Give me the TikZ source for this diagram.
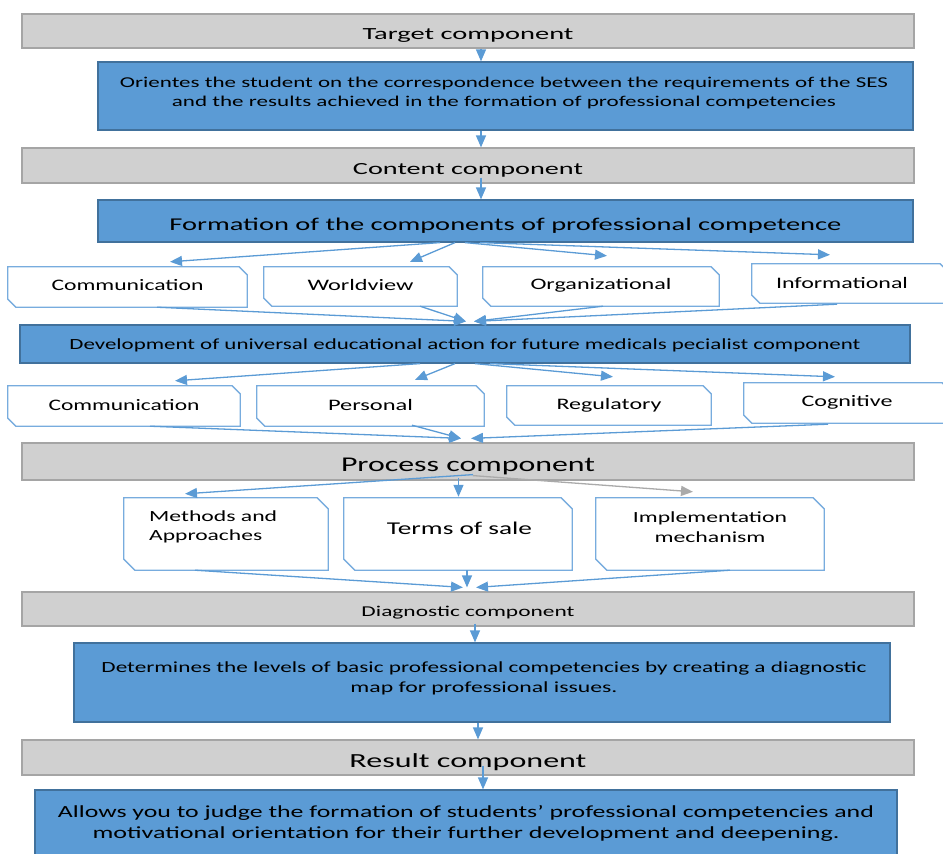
\documentclass[tikz,border=0pt]{standalone}
\usepackage{fontspec}
\setmainfont{Carlito}
\usepackage{graphicx}
\usetikzlibrary{arrows.meta,calc}
\definecolor{grayfill}{RGB}{208,208,208}
\definecolor{grayline}{RGB}{165,165,165}
\definecolor{bluefill}{RGB}{91,155,213}
\definecolor{blueline}{RGB}{65,113,156}
\definecolor{wline}{RGB}{120,172,222}
\definecolor{arrc}{RGB}{91,155,213}
\definecolor{garc}{RGB}{170,170,170}
\newcommand\sx[2]{\resizebox{#1pt}{\height}{#2}}
\newcommand\mv[2]{\raisebox{#1}[\height][\depth]{#2}}
\newcommand\fs[1]{\fontsize{#1}{#1}\selectfont}
\newcommand\chb[2][8]{\draw[wbord] (#2.north west) -- ([xshift=-#1pt]#2.north east) -- ([yshift=-#1pt]#2.north east) -- (#2.south east) -- ([xshift=#1pt]#2.south west) -- ([yshift=#1pt]#2.south west) -- cycle;}
\begin{document}
\begin{tikzpicture}[x=1pt,y=-1pt,
  graybar/.style={draw=grayline, fill=grayfill, line width=1.2pt, minimum width=892pt, inner sep=0pt, text=black},
  bluebox/.style={draw=blueline, fill=bluefill, line width=1.2pt, inner sep=0pt, text=black},
  wbox/.style={rectangle, inner sep=0pt, text=black},
  wbord/.style={draw=wline, line width=1.3pt, line join=miter},
  txt/.style={inner sep=0pt, text=black},
  arr/.style={draw=arrc, line width=1.3pt, -{Triangle[length=12pt,width=10pt]}},
  garr/.style={arr, draw=garc}]
\useasboundingbox (0,0) rectangle (943,854);
% main column
\node[graybar, minimum height=34pt, font=\fs{17}] (tgt) at (468,31) {\mv{-5pt}{\sx{211}{Target component}}};
\node[bluebox, minimum width=815pt, minimum height=68pt] (b1) at (505.5,96) {};
\node[txt, font=\fontsize{15}{19}\selectfont, align=center] (b1t) at (504,92.5) {\sx{768}{Orientes the student on the correspondence between the requirements of the SES}\\ \sx{664}{and the results achieved in the formation of professional competencies}};
\node[graybar, minimum height=35pt, font=\fs{17}] (cnt) at (468,165.5) {\mv{-4.5pt}{\sx{230}{Content component}}};
\node[bluebox, minimum width=815pt, minimum height=42pt, font=\fs{18}] (form) at (505.5,221) {\mv{-5pt}{\sx{672}{Formation of the components of professional competence}}};
% row 1
\node[wbox, minimum width=239pt, minimum height=40pt, font=\fs{16}] (w1) at (127.5,287) {\mv{1.5pt}{\sx{152}{Communication}}};
\node[wbox, minimum width=193pt, minimum height=39pt, font=\fs{16}] (w2) at (360.5,286.5) {\mv{1.5pt}{\sx{106}{Worldview}}};
\node[wbox, minimum width=236pt, minimum height=39pt, font=\fs{16}] (w3) at (601,286.5) {\mv{1.5pt}{\sx{141}{Organizational}}};
\node[wbox, minimum width=196pt, minimum height=39pt, font=\fs{16}] (w4) at (850,283.5) {\mv{1pt}{\sx{132}{Informational}}\hspace*{16pt}};
\chb{w1}\chb{w2}\chb{w3}\chb{w4}
\node[bluebox, minimum width=890pt, minimum height=38pt, font=\fs{15.5}] (dev) at (465,344) {\mv{-1pt}{\sx{791}{Development of universal educational action for future medicals pecialist component}}};
% row 2
\node[wbox, minimum width=232pt, minimum height=40pt, font=\fs{16}] (r1) at (124,406) {\mv{1pt}{\sx{151}{Communication}}};
\node[wbox, minimum width=227pt, minimum height=40pt, font=\fs{16}] (r2) at (370.5,406) {\mv{1pt}{\sx{85}{Personal}}};
\node[wbox, minimum width=204pt, minimum height=39pt, font=\fs{16}] (r3) at (609,405.5) {\sx{105}{Regulatory}};
\node[wbox, minimum width=206pt, minimum height=40pt, font=\fs{16}] (r4) at (847,403) {\mv{1pt}{\sx{91}{Cognitive}}};
\chb{r1}\chb{r2}\chb{r3}\chb{r4}
\node[graybar, minimum height=37pt, font=\fs{21}] (proc) at (468,461.5) {\mv{-5pt}{\sx{254}{Process component}}};
% row 3
\node[wbox, minimum width=204pt, minimum height=72pt] (m1) at (226,534) {};
\node[txt, anchor=west, align=left, font=\fontsize{15.5}{19}\selectfont] (m1t) at (149,527) {\sx{128}{Methods and}\\\sx{113}{Approaches}};
\node[wbox, minimum width=228pt, minimum height=72pt] (m2) at (458,534) {};
\node[txt, font=\fs{18}] (m2t) at (459.5,528) {\sx{145}{Terms of sale}};
\node[wbox, minimum width=228pt, minimum height=72pt] (m3) at (710,534) {};
\node[txt, align=center, font=\fontsize{15.5}{20}\selectfont] (m3t) at (710,527.5) {\sx{154}{Implementation}\\\sx{111}{mechanism}};
\chb[11]{m1}\chb[11]{m2}\chb[11]{m3}
\node[graybar, minimum height=34pt, font=\fs{15}] (diag) at (468,609) {\mv{-4pt}{\sx{213}{Diagnostic component}}};
\node[bluebox, minimum width=816pt, minimum height=79pt] (det) at (482,682.5) {};
\node[txt, align=center, font=\fontsize{15.5}{20}\selectfont] (dett) at (484,678) {\sx{765}{Determines the levels of basic professional competencies by creating a diagnostic}\\\sx{267}{map for professional issues.}};
\node[graybar, minimum height=35pt, font=\fs{20}] (res) at (468,757.5) {\mv{-5pt}{\sx{237}{Result component}}};
\node[bluebox, minimum width=862pt, minimum height=72pt] (all) at (466,826) {};
\node[txt, align=center, font=\fontsize{17}{21}\selectfont] (allt) at (466,823.5) {\sx{816}{Allows you to judge the formation of students' professional competencies and}\\\sx{747}{motivational orientation for their further development and deepening.}};
% vertical connectors
\draw[arr] ([xshift=13pt]tgt.south) -- ([xshift=-24.5pt]b1.north);
\draw[arr] ([xshift=-24.5pt]b1.south) -- ([xshift=13pt]cnt.north);
\draw[arr] ([xshift=13pt,yshift=6pt]cnt.south) -- ([xshift=-24.5pt]form.north);
\draw[arr] ([xshift=7pt,yshift=3pt]diag.south) -- ([xshift=-7pt]det.north);
\draw[arr] ([xshift=-4pt]det.south) -- ([xshift=10pt]res.north);
\draw[arr] ([xshift=15pt,yshift=10pt]res.south) -- ([xshift=17pt]all.north);
% fan from form
\draw[arr] ([xshift=-65.5pt]form.south) -- ([xshift=42.5pt,yshift=5pt]w1.north);
\draw[arr] ([xshift=-50.5pt]form.south) -- ([xshift=49.5pt,yshift=5pt]w2.north);
\draw[arr] ([xshift=-40.5pt]form.south) -- ([xshift=6pt,yshift=11pt]w3.north);
\draw[arr] ([xshift=-25.5pt]form.south) -- ([xshift=-20pt,yshift=9pt]w4.north);
% converge to dev
\draw[arr] ([xshift=29.5pt]w1.south) -- ([xshift=1pt,yshift=3pt]dev.north);
\draw[arr] ([xshift=59.5pt]w2.south) -- ([xshift=1pt,yshift=3pt]dev.north);
\draw[arr] ([xshift=2pt]w3.south) -- ([xshift=9pt,yshift=3pt]dev.north);
\draw[arr] ([xshift=-13pt,yshift=-1pt]w4.south) -- ([xshift=9pt,yshift=3pt]dev.north);
% fan from dev
\draw[arr] ([xshift=-45pt]dev.south) -- ([xshift=51pt,yshift=5pt]r1.north);
\draw[arr] ([xshift=-10pt]dev.south) -- ([xshift=44.5pt,yshift=6pt]r2.north);
\draw[arr] ([xshift=10pt]dev.south) -- ([xshift=4pt,yshift=9pt]r3.north);
\draw[arr] ([xshift=25pt]dev.south) -- ([xshift=-12pt,yshift=6pt]r4.north);
% converge to proc
\draw[arr] ([xshift=26pt]r1.south) -- ([xshift=-7pt,yshift=4pt]proc.north);
\draw[arr] ([xshift=41.5pt,yshift=1pt]r2.south) -- ([xshift=-7pt,yshift=4pt]proc.north);
\draw[arr] ([xshift=-19pt,yshift=-1pt]r4.south) -- ([xshift=3pt,yshift=4pt]proc.north);
% fan from proc
\draw[arr] ([xshift=5pt,yshift=6pt]proc.south) -- ([xshift=-41pt,yshift=4pt]m1.north);
\draw[arr] ([xshift=-9.5pt,yshift=3pt]proc.south) -- ([xshift=0.5pt,yshift=1pt]m2.north);
\draw[garr] ([xshift=5pt,yshift=5pt]proc.south) -- ([xshift=-17pt,yshift=6pt]m3.north);
% converge to diag
\draw[arr] ([xshift=-31pt]m1.south) -- ([xshift=-5pt,yshift=4pt]diag.north);
\draw[arr] ([xshift=9pt]m2.south) -- ([xshift=-1pt,yshift=4pt]diag.north);
\draw[arr] ([xshift=20pt]m3.south) -- ([xshift=8pt,yshift=4pt]diag.north);
\end{tikzpicture}
\end{document}
